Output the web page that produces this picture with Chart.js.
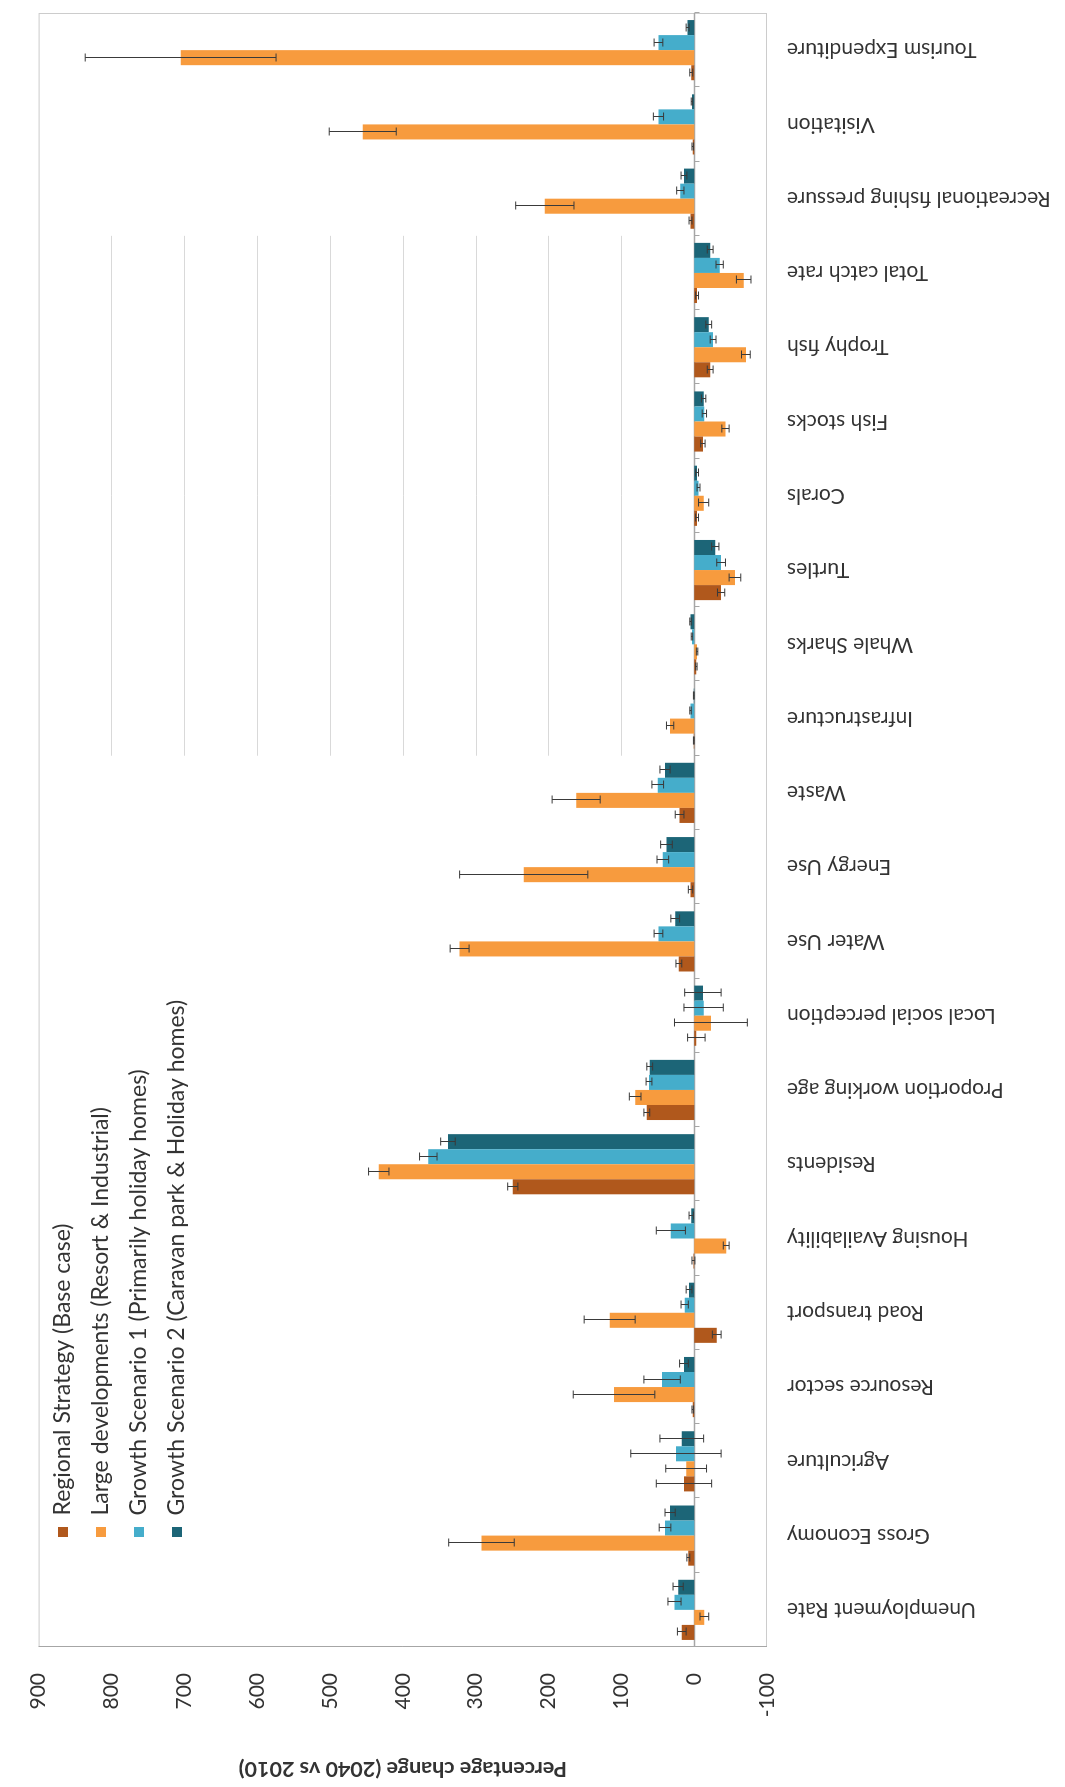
<!DOCTYPE html>
<html>
<head>
<meta charset="utf-8">
<script src="https://cdn.jsdelivr.net/npm/chart.js@4.4.1/dist/chart.umd.min.js"></script>
<style>
  html, body { margin: 0; padding: 0; background: #fff; overflow: hidden; }
  /* the chart is drawn landscape and turned a quarter turn, as in the source figure */
  #wrap {
    position: absolute; left: 0; top: 0;
    width: 1787px; height: 1065px;
    transform-origin: 0 0;
    transform: translateY(1787px) rotate(-90deg);
  }
</style>
</head>
<body>
<div id="wrap"><canvas id="chart" width="1787" height="1065"></canvas></div>
<script>
// Data
const categories = [
  'Unemployment Rate', 'Gross Economy', 'Agriculture', 'Resource sector',
  'Road transport', 'Housing Availability', 'Residents', 'Proportion working age',
  'Local social perception', 'Water Use', 'Energy Use', 'Waste', 'Infrastructure',
  'Whale Sharks', 'Turtles', 'Corals', 'Fish stocks', 'Trophy fish',
  'Total catch rate', 'Recreational fishing pressure', 'Visitation', 'Tourism Expenditure',
];

const seriesNames = [
  'Regional Strategy (Base case)',
  'Large developments (Resort & Industrial)',
  'Growth Scenario 1 (Primarily holiday homes)',
  'Growth Scenario 2 (Caravan park & Holiday homes)',
];

const regional = [17, 8, 14, 2, -31, 1, 249, 65, -3, 21, 5, 20, 0.5, -3, -37, -4, -12, -22, -4, 5, 2, 4];
const regionalErr = [6, 2, 38, 1, 6, 2, 7, 4, 12, 4, 3, 6, 0.5, 1, 5, 2, 3, 4, 2, 2, 1, 2];

const large = [-14, 292, 11, 110, 116, -44, 433, 81, -23, 322, 234, 162, 33, -4, -56, -13, -43, -71, -68, 205, 455, 705];
const largeErr = [6, 45, 28, 56, 35, 4, 14, 8, 50, 13, 88, 33, 5, 1, 8, 7, 5, 6, 10, 40, 46, 131];

const growth1 = [27, 40, 25, 44, 13, 32, 365, 62, -13, 49, 43, 50, 5, 3, -37, -6, -14, -26, -35, 19, 49, 49];
const growth1Err = [9, 8, 62, 25, 5, 20, 12, 4, 27, 6, 8, 8, 1, 1, 6, 2, 3, 4, 5, 5, 7, 6];

const growth2 = [22, 33, 17, 14, 7, 4, 338, 61, -12, 26, 38, 40, 0.5, 5, -29, -4, -13, -20, -22, 14, 3, 9];
const growth2Err = [7, 7, 30, 6, 4, 3, 10, 4, 25, 6, 8, 7, 0.5, 1, 5, 2, 3, 4, 4, 4, 1, 2];

const yTicks = { min: -100, max: 900, step: 100 };

// only this run of categories shows the value gridlines in the source
const gridBand = ['Infrastructure', 'Total catch rate'];

const colors = ['#B0581C', '#F79B3E', '#45ADCB', '#1C6577'];
const FONT = 'Lato, "Open Sans", sans-serif';
const TEXT = '#333333';

function line(ctx, x1, y1, x2, y2) {
  ctx.beginPath();
  ctx.moveTo(x1, y1);
  ctx.lineTo(x2, y2);
  ctx.stroke();
}

// Plot frame, partial gridlines and the zero axis
const framePlugin = {
  id: 'frame',
  beforeDatasetsDraw(chart) {
    const { ctx, chartArea: a, scales: { x, y } } = chart;
    const half = (x.getPixelForValue(1) - x.getPixelForValue(0)) / 2;
    const gx0 = x.getPixelForValue(categories.indexOf(gridBand[0])) - half;
    const gx1 = x.getPixelForValue(categories.indexOf(gridBand[1])) + half;
    ctx.save();
    ctx.lineWidth = 1;
    ctx.strokeStyle = '#D9D9D9';
    y.ticks.forEach((t) => {
      if (t.value <= 0 || t.value >= yTicks.max) return;
      const py = Math.round(y.getPixelForValue(t.value)) + 0.5;
      line(ctx, gx0, py, gx1, py);
    });
    ctx.strokeStyle = '#CCCCCC';
    ctx.strokeRect(a.left + 0.5, a.top + 0.5, a.width - 1, a.height - 1);
    ctx.strokeStyle = '#A6A6A6';
    line(ctx, a.left + 0.5, a.top, a.left + 0.5, a.bottom);
    const zy = Math.round(y.getPixelForValue(0)) + 0.5;
    ctx.lineWidth = 1.5;
    line(ctx, a.left, zy, a.right, zy);
    ctx.lineWidth = 1;
    for (let k = 0; k <= categories.length; k++) {
      const px = Math.round(x.getPixelForValue(k) - half) + 0.5;
      line(ctx, px, zy, px, zy + 5);
    }
    ctx.restore();
  },
};

// Symmetric error bars from the *Err arrays
const errorBarPlugin = {
  id: 'errorBars',
  afterDatasetsDraw(chart) {
    const { ctx, scales: { y } } = chart;
    ctx.save();
    ctx.strokeStyle = '#3A3A3A';
    ctx.lineWidth = 1;
    chart.data.datasets.forEach((ds, i) => {
      const meta = chart.getDatasetMeta(i);
      meta.data.forEach((bar, j) => {
        const err = ds.errors[j];
        if (!err) return;
        const v = ds.data[j];
        const px = Math.round(bar.x) + 0.5;
        const y1 = y.getPixelForValue(v - err);
        const y2 = y.getPixelForValue(v + err);
        line(ctx, px, y1, px, y2);
        line(ctx, px - 4, y1, px + 4, y1);
        line(ctx, px - 4, y2, px + 4, y2);
      });
    });
    ctx.restore();
  },
};

// Legend sits inside the plot, near the top-left corner
const legendSpot = {
  id: 'legendSpot',
  beforeDraw(chart) {
    const lg = chart.legend;
    lg.left = 235;
    lg.top = 36.5;
    lg.right = 1000;
    lg.bottom = 400;
  },
};

const values = [regional, large, growth1, growth2];
const errors = [regionalErr, largeErr, growth1Err, growth2Err];

new Chart(document.getElementById('chart'), {
  type: 'bar',
  data: {
    labels: categories,
    datasets: seriesNames.map((name, i) => ({
      label: name,
      data: values[i],
      errors: errors[i],
      backgroundColor: colors[i],
      borderWidth: 0,
      categoryPercentage: 0.81,
      barPercentage: 1.0,
    })),
  },
  options: {
    responsive: false,
    animation: false,
    layout: { padding: { top: 16, right: 13, bottom: 0, left: 0 } },
    plugins: {
      tooltip: { enabled: false },
      legend: {
        position: 'chartArea',
        align: 'start',
        labels: {
          boxWidth: 10,
          boxHeight: 10,
          padding: 15,
          color: TEXT,
          font: { family: FONT, size: 23 },
        },
      },
    },
    scales: {
      x: {
        grid: { display: false, drawTicks: false },
        border: { display: false },
        ticks: {
          autoSkip: false,
          minRotation: 90,
          maxRotation: 90,
          padding: 20,
          color: TEXT,
          font: { family: FONT, size: 21 },
        },
        afterFit: (scale) => { scale.height = 298; },
      },
      y: {
        min: yTicks.min,
        max: yTicks.max,
        grid: { display: false, drawTicks: false },
        border: { display: false },
        ticks: {
          stepSize: yTicks.step,
          padding: 26,
          color: TEXT,
          font: { family: FONT, size: 21 },
        },
        title: {
          display: true,
          text: 'Percentage change (2040 vs 2010)',
          color: TEXT,
          font: { family: FONT, size: 21.5, weight: 'bold' },
          padding: { top: 5, bottom: 0 },
        },
        afterFit: (scale) => { scale.width = 140; },
      },
    },
  },
  plugins: [framePlugin, errorBarPlugin, legendSpot],
});
</script>
</body>
</html>
